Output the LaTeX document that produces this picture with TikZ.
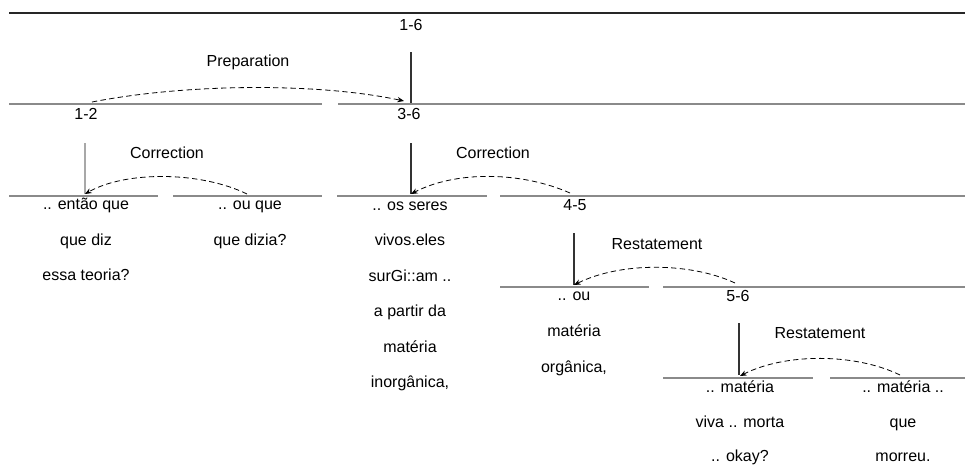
\documentclass[tikz,border=0pt]{standalone}
\usepackage{fontspec}
\setmainfont{Liberation Sans}
\usetikzlibrary{arrows.meta}
\definecolor{hline}{HTML}{8A8A8A}
\definecolor{vdark}{HTML}{333333}
\definecolor{vlight}{HTML}{A8A8A8}
\tikzset{
  topline/.style={draw=black!85, line width=1.6pt},
  levelline/.style={draw=hline, line width=1.1pt},
  spanbar/.style={draw=vdark, line width=1pt},
  spanbarlight/.style={draw=vlight, line width=0.8pt},
  relarc/.style={draw=black, line width=0.6pt, dash pattern=on 4pt off 2.5pt, -{Stealth[length=5pt,width=4pt]}},
  rellabel/.style={font=\fontsize{12}{14}\selectfont, inner sep=0pt, anchor=center},
  spanlabel/.style={font=\fontsize{12}{14}\selectfont, inner sep=0pt, anchor=center},
  seg/.style={font=\fontsize{12}{14}\selectfont, inner sep=0pt, anchor=base},
}
\begin{document}
\begin{tikzpicture}[x=0.75pt,y=-0.75pt]
\useasboundingbox (0,0) rectangle (965,465);
% top
\draw[topline] (9,13) -- (965,13);
\node[spanlabel] (s16) at (411,25) {1-6};
\coordinate (v16t) at (411,52);
\coordinate (v16b) at (411,103);
\draw[spanbar] (v16t) -- (v16b);
\node[rellabel] (prep) at (248,62) {Preparation};
% level 1
\draw[levelline] (9,104) -- (322,104);
\draw[levelline] (338,104) -- (965,104);
\node[spanlabel] (s12) at (86,114) {1-2};
\node[spanlabel] (s36) at (409,114) {3-6};
\coordinate (a12) at (92,102);
\coordinate (a36) at (404,101);
\draw[relarc] (a12) .. controls (190,83) and (320,83) .. (a36);
% level 2 left
\coordinate (v12t) at (85,143);
\coordinate (v12b) at (85,194);
\draw[spanbarlight] (v12t) -- (v12b);
\node[rellabel] (corr1) at (167,153) {Correction};
\draw[levelline] (9,196) -- (158,196);
\draw[levelline] (173,196) -- (322,196);
\coordinate (a1) at (247,194);
\coordinate (a2) at (85,194);
\draw[relarc] (a1) .. controls (200,171) and (125,171) .. (a2);
\node[seg] (t1a) at (86,209) {.. então que};
\node[seg] (t1b) at (86,245) {que diz};
\node[seg] (t1c) at (86,280) {essa teoria?};
\node[seg] (t2a) at (250,209) {.. ou que};
\node[seg] (t2b) at (250,245) {que dizia?};
% level 2 right
\coordinate (v36t) at (411,143);
\coordinate (v36b) at (411,194);
\draw[spanbar] (v36t) -- (v36b);
\node[rellabel] (corr2) at (493,153) {Correction};
\draw[levelline] (337,196) -- (487,196);
\draw[levelline] (500,196) -- (965,196);
\node[spanlabel] (s45) at (575,205) {4-5};
\coordinate (a45) at (570,193);
\coordinate (a3) at (411,194);
\draw[relarc] (a45) .. controls (520,171) and (455,171) .. (a3);
\node[seg] (t3a) at (410,210) {.. os seres};
\node[seg] (t3b) at (410,245.5) {vivos.eles};
\node[seg] (t3c) at (410,281) {surGi::am ..};
\node[seg] (t3d) at (410,316.5) {a partir da};
\node[seg] (t3e) at (410,352) {matéria};
\node[seg] (t3f) at (410,387.5) {inorgânica,};
% level 3
\coordinate (v45t) at (574,233);
\coordinate (v45b) at (574,285);
\draw[spanbar] (v45t) -- (v45b);
\node[rellabel] (rest1) at (657,244) {Restatement};
\draw[levelline] (500,287) -- (649,287);
\draw[levelline] (663,287) -- (965,287);
\node[spanlabel] (s56) at (738,296) {5-6};
\coordinate (a56) at (735,283);
\coordinate (a4) at (574,285);
\draw[relarc] (a56) .. controls (690,262) and (620,262) .. (a4);
\node[seg] (t4a) at (574,300) {.. ou};
\node[seg] (t4b) at (574,336) {matéria};
\node[seg] (t4c) at (574,372) {orgânica,};
% level 4
\coordinate (v56t) at (739,323);
\coordinate (v56b) at (739,375);
\draw[spanbar] (v56t) -- (v56b);
\node[rellabel] (rest2) at (820,333) {Restatement};
\draw[levelline] (663,378) -- (813,378);
\draw[levelline] (830,378) -- (965,378);
\coordinate (a6) at (900,375);
\coordinate (a5) at (740,376);
\draw[relarc] (a6) .. controls (855,353) and (785,353) .. (a5);
\node[seg] (t5a) at (740,392) {.. matéria};
\node[seg] (t5b) at (740,427) {viva .. morta};
\node[seg] (t5c) at (740,461) {.. okay?};
\node[seg] (t6a) at (903,392) {.. matéria ..};
\node[seg] (t6b) at (903,427) {que};
\node[seg] (t6c) at (903,461) {morreu.};
\end{tikzpicture}
\end{document}
